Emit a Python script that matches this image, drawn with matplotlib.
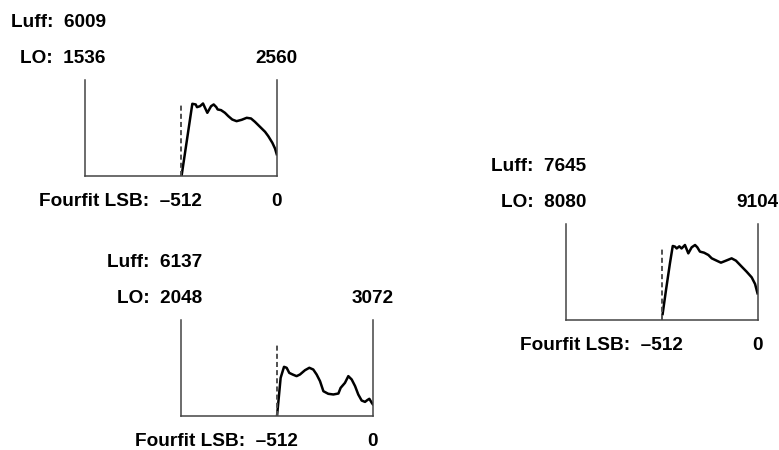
import matplotlib.pyplot as plt

plt.rcParams['font.family'] = ['Liberation Sans', 'DejaVu Sans']

# Channel annotations
luff = [6009, 6137, 7645]
lo_start = [1536, 2048, 8080]
lo_end = [2560, 3072, 9104]
lsb_cut = -512

# Amplitude spectra, normalised to the box height (x = fourfit LSB channel)
lsb_a = [-507, -450, -432, -425, -409, -393, -370, -350, -336, -322, -315,
         -297, -276, -258, -237, -214, -187, -160, -137, -116, -89, -62,
         -45, -23, -9, 0]
amp_a = [0.0, 0.747, 0.740, 0.712, 0.722, 0.750, 0.653, 0.722, 0.740, 0.712,
         0.688, 0.681, 0.653, 0.618, 0.583, 0.566, 0.580, 0.601, 0.594, 0.559,
         0.507, 0.455, 0.410, 0.340, 0.281, 0.222]

lsb_b = [-510, -491, -473, -459, -445, -427, -406, -388, -361, -338, -317,
         -299, -281, -263, -237, -210, -183, -171, -148, -130, -112, -94,
         -77, -59, -41, -29, -18, -5, 0]
amp_b = [0.0, 0.392, 0.507, 0.497, 0.444, 0.427, 0.410, 0.427, 0.472, 0.497,
         0.479, 0.427, 0.358, 0.253, 0.226, 0.219, 0.229, 0.288, 0.340, 0.410,
         0.375, 0.306, 0.219, 0.156, 0.142, 0.160, 0.174, 0.132, 0.118]

lsb_c = [-506, -488, -467, -452, -440, -431, -417, -405, -387, -369, -351,
         -333, -321, -307, -285, -262, -244, -218, -195, -168, -138, -115,
         -84, -58, -31, -13, 0]
amp_c = [0.057, 0.307, 0.585, 0.766, 0.759, 0.740, 0.762, 0.740, 0.776, 0.689,
         0.752, 0.776, 0.752, 0.707, 0.696, 0.672, 0.637, 0.613, 0.592, 0.613,
         0.637, 0.613, 0.550, 0.498, 0.439, 0.370, 0.273]

W, H = 779, 450
fig = plt.figure(figsize=(W / 100, H / 100), dpi=100)


def panel(left_px, top_px, lsb, amp, idx):
    ax = fig.add_axes([left_px / W, 1 - (top_px + 96) / H, 192 / W, 96 / H])
    ax.plot(lsb, amp, color='black', lw=1.8, solid_joinstyle='round')
    ax.plot([lsb_cut, lsb_cut], [0, 0.76], color='#505050', lw=1.4,
            dashes=(2.6, 1.6))
    ax.set_xlim(-1024, 0)
    ax.set_ylim(0, 1)
    ax.set_xticks([])
    ax.set_yticks([])
    ax.spines['top'].set_visible(False)
    for s in ['left', 'right', 'bottom']:
        ax.spines[s].set_color('#444444')
        ax.spines[s].set_linewidth(1.1)

    kw = dict(transform=ax.transAxes, fontsize=13.7, fontweight='bold',
              va='baseline', clip_on=False)
    ax.text(0.11, 1.55, 'Luff:  %d' % luff[idx], ha='right', **kw)
    ax.text(0.11, 1.175, 'LO:  %d' % lo_start[idx], ha='right', **kw)
    ax.text(1.0, 1.175, '%d' % lo_end[idx], ha='center', **kw)
    ax.text(0.61, -0.32, 'Fourfit LSB:  \u2013512', ha='right', **kw)
    ax.text(1.0, -0.32, '0', ha='center', **kw)


panel(84.7, 79.5, lsb_a, amp_a, 0)
panel(180.7, 319.5, lsb_b, amp_b, 1)
panel(565.5, 223.5, lsb_c, amp_c, 2)

fig.savefig('out.png', dpi=100)
